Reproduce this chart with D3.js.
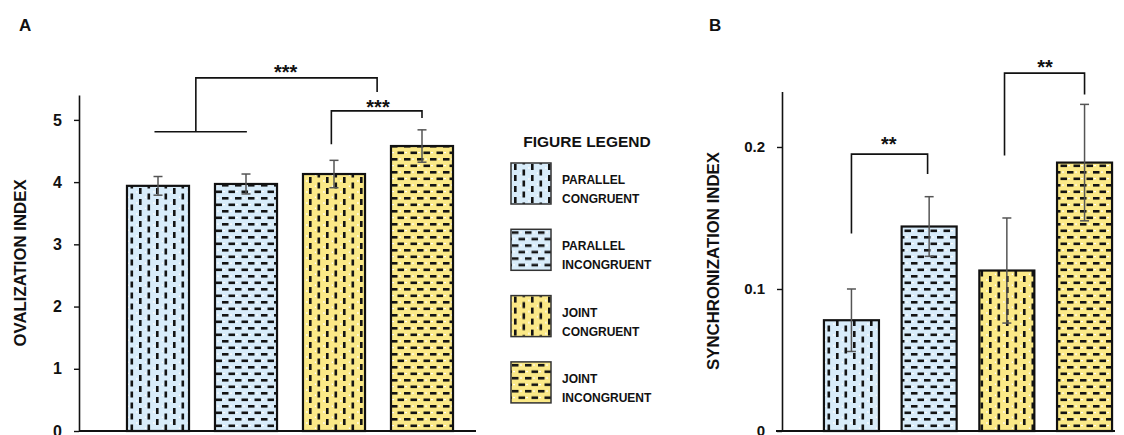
<!DOCTYPE html>
<html>
<head>
<meta charset="utf-8">
<script src="https://cdn.jsdelivr.net/npm/d3@7"></script>
<style>
body{margin:0;background:#fff;}
text{font-family:"Liberation Sans",Arial,sans-serif;font-weight:bold;fill:#111;}
</style>
</head>
<body>
<div id="chart"></div>
<script>
var w = 1124;
var h = 435;

// data
var categories = ["PARALLEL CONGRUENT", "PARALLEL INCONGRUENT", "JOINT CONGRUENT", "JOINT INCONGRUENT"];
var legendLine1 = ["PARALLEL", "PARALLEL", "JOINT", "JOINT"];
var legendLine2 = ["CONGRUENT", "INCONGRUENT", "CONGRUENT", "INCONGRUENT"];
var ovalMeans = [3.94, 3.97, 4.13, 4.58];
var ovalErr = [0.15, 0.16, 0.22, 0.26];
var syncMeans = [0.078, 0.144, 0.113, 0.189];
var syncErr = [0.022, 0.021, 0.037, 0.041];
var ovalTicks = [0, 1, 2, 3, 4, 5];
var syncTicks = [0, 0.1, 0.2];
// significance brackets (bar index units for x, data units for y)
var ovalBrackets = [
	{a: 0.43, b: 2.49, y: 5.675, ya: 4.81, yb: 5.45, label: "***", lx: 1.45, ly: 5.84},
	{a: 1.97, b: 3.0, y: 5.145, ya: 4.61, yb: 5.03, label: "***", lx: 2.5, ly: 5.27}
];
var ovalGroupLine = {a: -0.04, b: 1.01, y: 4.81};
var syncBrackets = [
	{a: 0.0, b: 0.98, y: 0.195, ya: 0.139, yb: 0.181, label: "**", lx: 0.48, ly: 0.205},
	{a: 1.97, b: 3.0, y: 0.252, ya: 0.194, yb: 0.237, label: "**", lx: 2.49, ly: 0.259}
];

var fills = ["#d8ecfa", "#d8ecfa", "#fbe987", "#fbe987"];
var patterns = ["vBlue", "hBlue", "vYellow", "hYellow"];

var svg = d3.select("#chart")
	.append("svg")
	.attr("width", w)
	.attr("height", h)
	.style("background", "#fff");

var defs = svg.append("defs");

function makePattern(id, bg, vertical){
	var p = defs.append("pattern")
		.attr("id", id)
		.attr("patternUnits", "userSpaceOnUse");
	var ink = "#141414";
	if(vertical){
		p.attr("width", 17).attr("height", 11);
		p.append("rect").attr("width", 17).attr("height", 11).attr("fill", bg);
		p.append("rect").attr("x", 0.3).attr("y", 4).attr("width", 1.2).attr("height", 2).attr("fill", "#fff");
		p.append("rect").attr("x", 8.8).attr("y", 9.5).attr("width", 1.2).attr("height", 1.5).attr("fill", "#fff");
		p.append("rect").attr("x", 3).attr("y", 1).attr("width", 2.6).attr("height", 6).attr("fill", ink);
		p.append("rect").attr("x", 11.5).attr("y", 6.5).attr("width", 2.6).attr("height", 4.5).attr("fill", ink);
		p.append("rect").attr("x", 11.5).attr("y", 0).attr("width", 2.6).attr("height", 1.5).attr("fill", ink);
	}else{
		p.attr("width", 13).attr("height", 13);
		p.append("rect").attr("width", 13).attr("height", 13).attr("fill", bg);
		p.append("rect").attr("x", 9).attr("y", 2.5).attr("width", 2).attr("height", 1.2).attr("fill", "#fff");
		p.append("rect").attr("x", 2).attr("y", 9).attr("width", 2).attr("height", 1.2).attr("fill", "#fff");
		p.append("rect").attr("x", 1).attr("y", 2).attr("width", 6.5).attr("height", 2.6).attr("fill", ink);
		p.append("rect").attr("x", 7.5).attr("y", 8.5).attr("width", 5.5).attr("height", 2.6).attr("fill", ink);
		p.append("rect").attr("x", 0).attr("y", 8.5).attr("width", 1).attr("height", 2.6).attr("fill", ink);
	}
}
makePattern("vBlue", fills[0], true);
makePattern("hBlue", fills[1], false);
makePattern("vYellow", fills[2], true);
makePattern("hYellow", fills[3], false);

function panel(cfg){
	var x = d3.scaleBand()
		.domain(categories)
		.range(cfg.xRange)
		.paddingInner(cfg.pad)
		.paddingOuter(cfg.pad / 2);
	var y = d3.scaleLinear()
		.domain(cfg.yDomain)
		.range([431, cfg.yTop]);

	var bw = x.bandwidth();
	function cx(i){ return x(categories[0]) + bw / 2 + i * x.step(); }

	// y axis
	var yAxis = svg.append("g")
		.attr("transform", "translate(" + cfg.axisX + ",0)")
		.call(d3.axisLeft(y).tickValues(cfg.ticks).tickSize(5).tickPadding(12).tickSizeOuter(0)
			.tickFormat(function(d){ return d === 0 ? "0" : d3.format(cfg.fmt)(d); }));
	yAxis.select(".domain").attr("stroke", "#111").attr("stroke-width", 1.6);
	yAxis.selectAll(".tick line").attr("stroke", "#111").attr("stroke-width", 1.4);
	yAxis.selectAll(".tick text")
		.style("font-family", "'Liberation Sans', Arial, sans-serif")
		.style("font-weight", "bold")
		.style("font-size", cfg.tickFont + "px")
		.attr("fill", "#111");

	// baseline
	svg.append("line")
		.attr("x1", cfg.baseX[0]).attr("x2", cfg.baseX[1])
		.attr("y1", y(0)).attr("y2", y(0))
		.attr("stroke", "#111").attr("stroke-width", 1.8);

	// bars
	svg.selectAll(".bar" + cfg.id)
		.data(cfg.means)
		.enter().append("rect")
		.attr("class", "bar" + cfg.id)
		.attr("x", function(d, i){ return x(categories[i]); })
		.attr("y", function(d){ return y(d); })
		.attr("width", bw)
		.attr("height", function(d){ return y(0) - y(d); })
		.attr("fill", function(d, i){ return "url(#" + patterns[i] + ")"; })
		.attr("stroke", "#111")
		.attr("stroke-width", 2.2);

	// error bars
	var eb = svg.selectAll(".err" + cfg.id)
		.data(cfg.means)
		.enter().append("g")
		.attr("class", "err" + cfg.id);
	eb.append("line")
		.attr("x1", function(d, i){ return cx(i); })
		.attr("x2", function(d, i){ return cx(i); })
		.attr("y1", function(d, i){ return y(d - cfg.err[i]); })
		.attr("y2", function(d, i){ return y(d + cfg.err[i]); })
		.attr("stroke", "#555").attr("stroke-width", 1.5);
	[1, -1].forEach(function(s){
		eb.append("line")
			.attr("x1", function(d, i){ return cx(i) - 4.5; })
			.attr("x2", function(d, i){ return cx(i) + 4.5; })
			.attr("y1", function(d, i){ return y(d + s * cfg.err[i]); })
			.attr("y2", function(d, i){ return y(d + s * cfg.err[i]); })
			.attr("stroke", "#555").attr("stroke-width", 1.5);
	});

	// brackets
	cfg.brackets.forEach(function(b){
		svg.append("path")
			.attr("d", "M" + cx(b.a) + "," + y(b.ya) + "V" + y(b.y) + "H" + cx(b.b) + "V" + y(b.yb))
			.attr("fill", "none").attr("stroke", "#111").attr("stroke-width", 1.6);
		svg.append("text")
			.attr("x", cx(b.lx))
			.attr("y", y(b.ly) + 11)
			.attr("text-anchor", "middle")
			.style("font-size", "20px")
			.text(b.label);
	});
	if(cfg.group){
		svg.append("line")
			.attr("x1", cx(cfg.group.a)).attr("x2", cx(cfg.group.b))
			.attr("y1", y(cfg.group.y)).attr("y2", y(cfg.group.y))
			.attr("stroke", "#111").attr("stroke-width", 1.6);
	}

	// y label
	svg.append("text")
		.attr("transform", "translate(" + cfg.labelX + "," + cfg.labelY + ") rotate(-90)")
		.attr("text-anchor", "middle")
		.style("font-size", cfg.labelFont + "px")
		.text(cfg.label);

	// panel letter
	svg.append("text")
		.attr("x", cfg.letterX)
		.attr("y", 31)
		.style("font-size", "17px")
		.text(cfg.id);
}

panel({
	id: "A", xRange: [114, 466], pad: 0.295, yDomain: [0, 5.4], yTop: 95,
	means: ovalMeans, err: ovalErr, ticks: ovalTicks, fmt: "d", axisX: 79,
	baseX: [79, 476], brackets: ovalBrackets, group: ovalGroupLine,
	label: "OVALIZATION INDEX", labelX: 26, labelY: 263, labelFont: 16.8,
	tickFont: 16, letterX: 19
});

panel({
	id: "B", xRange: [812.6, 1123.4], pad: 0.292, yDomain: [0, 0.239], yTop: 91.6,
	means: syncMeans, err: syncErr, ticks: syncTicks, fmt: ".1f", axisX: 782,
	baseX: [776, 1115], brackets: syncBrackets, group: null,
	label: "SYNCHRONIZATION INDEX", labelX: 719, labelY: 261, labelFont: 16.8,
	tickFont: 15, letterX: 709
});

// legend
svg.append("text")
	.attr("x", 587)
	.attr("y", 147)
	.attr("text-anchor", "middle")
	.style("font-size", "15.5px")
	.text("FIGURE LEGEND");

var leg = svg.selectAll(".leg")
	.data(categories)
	.enter().append("g")
	.attr("class", "leg")
	.attr("transform", function(d, i){ return "translate(511," + (163 + i * 66.3) + ")"; });
leg.append("rect")
	.attr("width", 40).attr("height", 41)
	.attr("fill", function(d, i){ return "url(#" + patterns[i] + ")"; })
	.attr("stroke", "#333").attr("stroke-width", 1.5);
leg.append("text")
	.attr("x", 51).attr("y", 21)
	.style("font-size", "12px")
	.text(function(d, i){ return legendLine1[i]; });
leg.append("text")
	.attr("x", 51).attr("y", 40)
	.style("font-size", "12px")
	.text(function(d, i){ return legendLine2[i]; });
</script>
</body>
</html>
